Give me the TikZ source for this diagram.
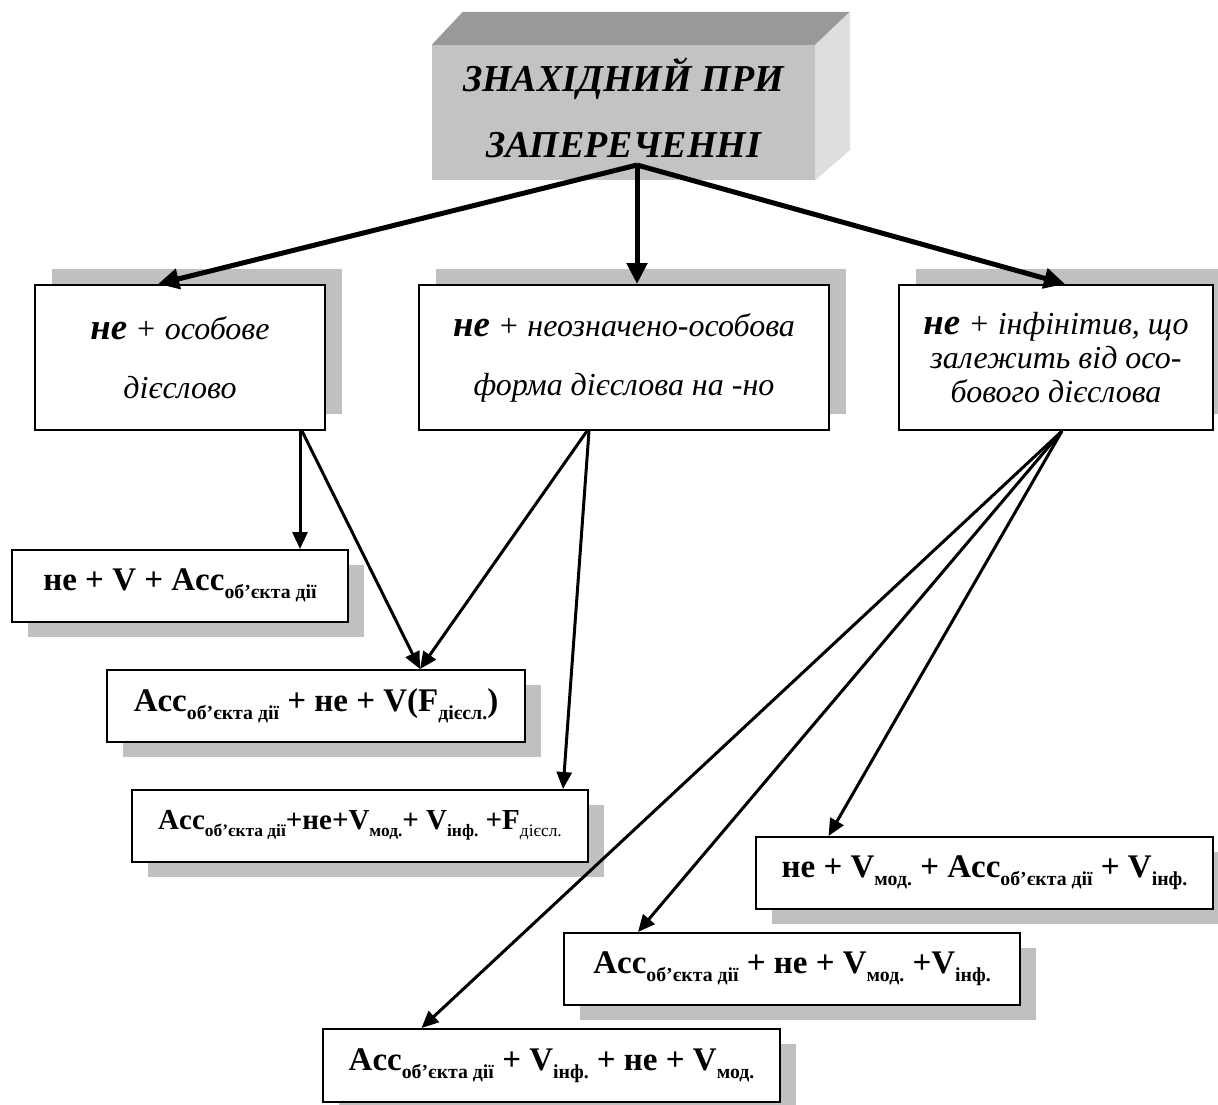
\documentclass[tikz,border=0pt]{standalone}
\usepackage{fontspec}
\setmainfont{Liberation Serif}
\usetikzlibrary{arrows.meta,shadows}
\definecolor{shade}{HTML}{C0C0C0}
\definecolor{topgray}{HTML}{999999}
\definecolor{frontgray}{HTML}{C3C3C3}
\definecolor{sidegray}{HTML}{DEDEDE}
\newcommand{\idx}[1]{\raisebox{-0.24em}{\scalebox{0.6}{#1}}}
\newcommand{\negw}{\scalebox{1.15}{\textbf{не}}}
\tikzstyle{block} = [rectangle, draw=black, line width=2pt, fill=white, inner sep=0pt, text centered, align=center]
\tikzstyle{upper} = [block, minimum height=145pt, font=\fontsize{32}{59}\selectfont\itshape, drop shadow={shadow xshift=17pt, shadow yshift=16pt, fill=shade, opacity=1}]
\tikzstyle{lower} = [block, minimum width=456pt, minimum height=72pt, text depth=12pt, font=\fontsize{33}{36}\selectfont\bfseries, drop shadow={shadow xshift=16pt, shadow yshift=-15pt, fill=shade, opacity=1}]
\tikzstyle{bigarrow} = [line width=5pt, -{Triangle[length=21pt, width=20pt]}]
\tikzstyle{arrow} = [line width=3pt, -{Triangle[length=17pt, width=15pt]}]

\begin{document}
\begin{tikzpicture}[x=1pt, y=-1pt]
    \fill[white] (0,0) rectangle (1218,1104);
    \useasboundingbox (0,0) rectangle (1218,1104);

    \node [fill=frontgray, minimum width=383pt, minimum height=135pt, inner sep=0pt, text depth=9pt, align=center, font=\fontsize{38}{66}\selectfont\bfseries\itshape] (title) at (623.5,112.5) {ЗНАХІДНИЙ ПРИ\\ЗАПЕРЕЧЕННІ};
    \fill[topgray] (title.north west) -- ++(31,-33) -- ++(387,0) -- (title.north east) -- cycle;
    \fill[sidegray] (title.north east) -- ++(35,-33) -- ++(0,138) -- (title.south east) -- cycle;
    \coordinate (apex) at (637,165);

    \node [upper, minimum width=290pt] (block1) at (180,357.5) {\negw{} + особове\\дієслово};
    \node [upper, minimum width=410pt] (block2) at (624,357.5) {\negw{} + неозначено-особова\\форма дієслова на -но};
    \node [upper, minimum width=314pt, font=\fontsize{32}{34}\selectfont\itshape] (block3) at (1056,357.5) {\negw{} + інфінітив, що\\залежить від осо-\\бового дієслова};

    \node [lower, minimum width=336pt] (form1) at (180,586) {не + V + Acc\idx{об’єкта дії}};
    \node [lower, minimum width=418pt] (form2) at (316,706) {Acc\idx{об’єкта дії} + не + V(F\idx{дієсл.})};
    \node [lower, font=\fontsize{29}{32}\selectfont\bfseries] (form3) at (360,826) {Acc\idx{об’єкта дії}+не+V\idx{мод.}+ V\idx{інф.} +F\idx{\mdseries дієсл.}};
    \node [lower, minimum width=457pt] (form4) at (984.5,873) {не + V\idx{мод.} + Acc\idx{об’єкта дії} + V\idx{інф.}};
    \node [lower] (form5) at (792,969) {Acc\idx{об’єкта дії} + не + V\idx{мод.} +V\idx{інф.}};
    \node [lower, minimum width=457pt, minimum height=73pt] (form6) at (551.5,1065.5) {Acc\idx{об’єкта дії} + V\idx{інф.} + не + V\idx{мод.}};

    \draw[bigarrow] (apex) -- ([xshift=-22pt]block1.north);
    \draw[bigarrow] (apex) -- ([xshift=13pt]block2.north);
    \draw[bigarrow] (apex) -- ([xshift=9pt]block3.north);

    \draw[arrow] ([xshift=120pt]block1.south) -- ([xshift=120pt]form1.north);
    \draw[arrow] ([xshift=122pt]block1.south) -- ([xshift=104pt]form2.north);
    \draw[arrow] ([xshift=-37pt]block2.south) -- ([xshift=104pt]form2.north);
    \draw[arrow] ([xshift=-35pt]block2.south) -- ([xshift=203pt]form3.north);
    \draw[arrow] ([xshift=6pt]block3.south) -- ([xshift=-156pt]form4.north);
    \draw[arrow] ([xshift=6pt]block3.south) -- ([xshift=-154pt]form5.north);
    \draw[arrow] ([xshift=6pt]block3.south) -- ([xshift=-130pt]form6.north);
\end{tikzpicture}
\end{document}
